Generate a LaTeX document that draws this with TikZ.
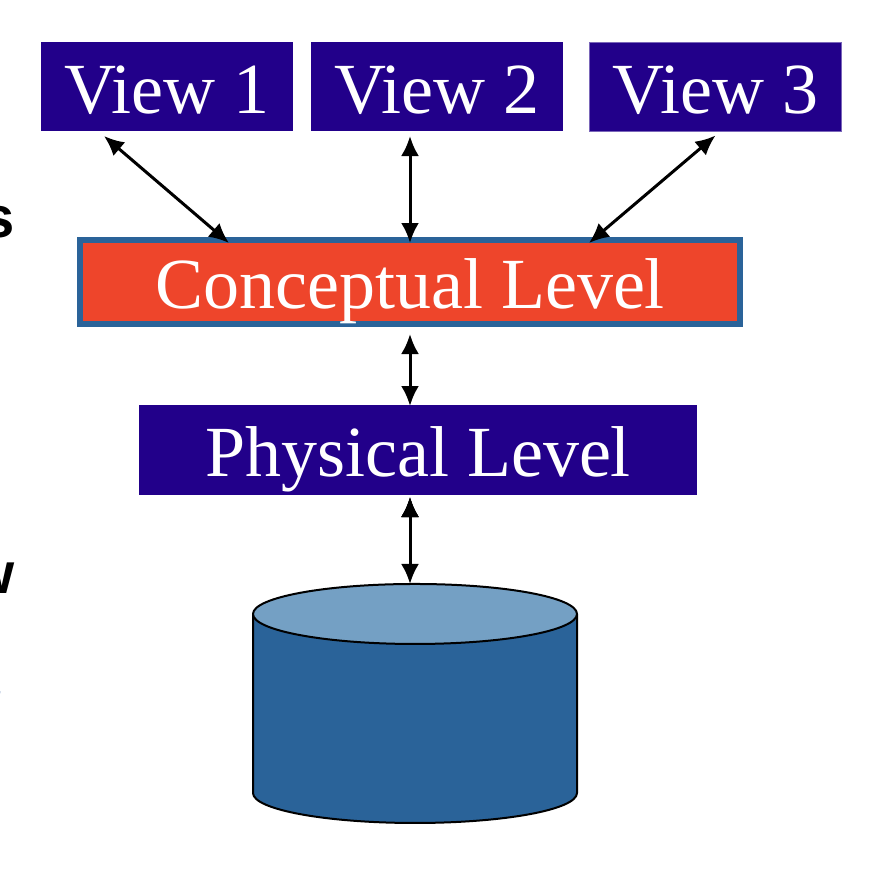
\documentclass[tikz,border=0pt]{standalone}
\usepackage{fontspec}
\setmainfont{Liberation Serif}
\newfontfamily\cutfont{Liberation Sans}
\usetikzlibrary{arrows.meta,shapes.geometric}
\definecolor{viewblue}{HTML}{22008A}
\definecolor{levelred}{HTML}{EE452B}
\definecolor{diskblue}{HTML}{2A6399}
\definecolor{disktop}{HTML}{74A0C4}
\definecolor{cutgrey}{HTML}{B4C4DC}
\tikzset{
    level/.style={fill=viewblue, text=white, inner sep=0pt, outer sep=0pt, text height=52pt, text depth=0pt, font=\fontsize{72}{80}\selectfont},
    view/.style={level, minimum width=252pt, minimum height=89pt, text height=53pt},
    link/.style={{Latex[length=20pt,width=18pt]}-{Latex[length=20pt,width=18pt]}, line width=3pt},
    cut/.style={anchor=base east, inner sep=0pt, font=\cutfont\bfseries\fontsize{58}{64}\selectfont}
}

\begin{document}
\begin{tikzpicture}[x=1pt,y=-1pt]
    \useasboundingbox (0,0) rectangle (884,868);
        \node [view] (view1) at (167,86.5) {View 1};
        \node [view] (view2) at (437,86.5) {View 2};
        \node [view, draw=viewblue!60!white, line width=0.8pt] (view3) at (715.5,87) {View 3};
        \node [level, fill=levelred, draw=diskblue, line width=6pt, minimum width=660pt, minimum height=84pt] (concept) at (410,282) {Conceptual Level};
        \node [level, minimum width=558pt, minimum height=90pt] (phys) at (418,450) {Physical Level};
        \node [cylinder, shape border rotate=90, aspect=9, draw, line width=2pt, minimum width=324pt, minimum height=239pt,
            outer sep=0pt, cylinder uses custom fill, cylinder body fill=diskblue, cylinder end fill=disktop] (disk) at (415,722) {};
        \node [cut] (cuts) at (15,237) {s};
        \node [cut] (cutw) at (15,593) {w};
        \node [cut, text=cutgrey] (cuty) at (2,722) {y};
    \draw [link]
        ([xshift=63pt,yshift=-5pt]view1.south west) edge ([xshift=149pt,yshift=-3pt]concept.north west)
        ([yshift=-5pt]view2.south -| concept.north) edge ([yshift=-3pt]concept.north)
        ([xshift=126pt,yshift=-4pt]view3.south west) edge ([xshift=509pt,yshift=-3pt]concept.north west)
        ([yshift=-10pt]concept.south) edge ([yshift=-1pt]concept.south |- phys.north)
        ([yshift=-2pt]concept.south |- phys.south) edge ([yshift=0pt]concept.south |- disk.north);
\end{tikzpicture}
\end{document}
